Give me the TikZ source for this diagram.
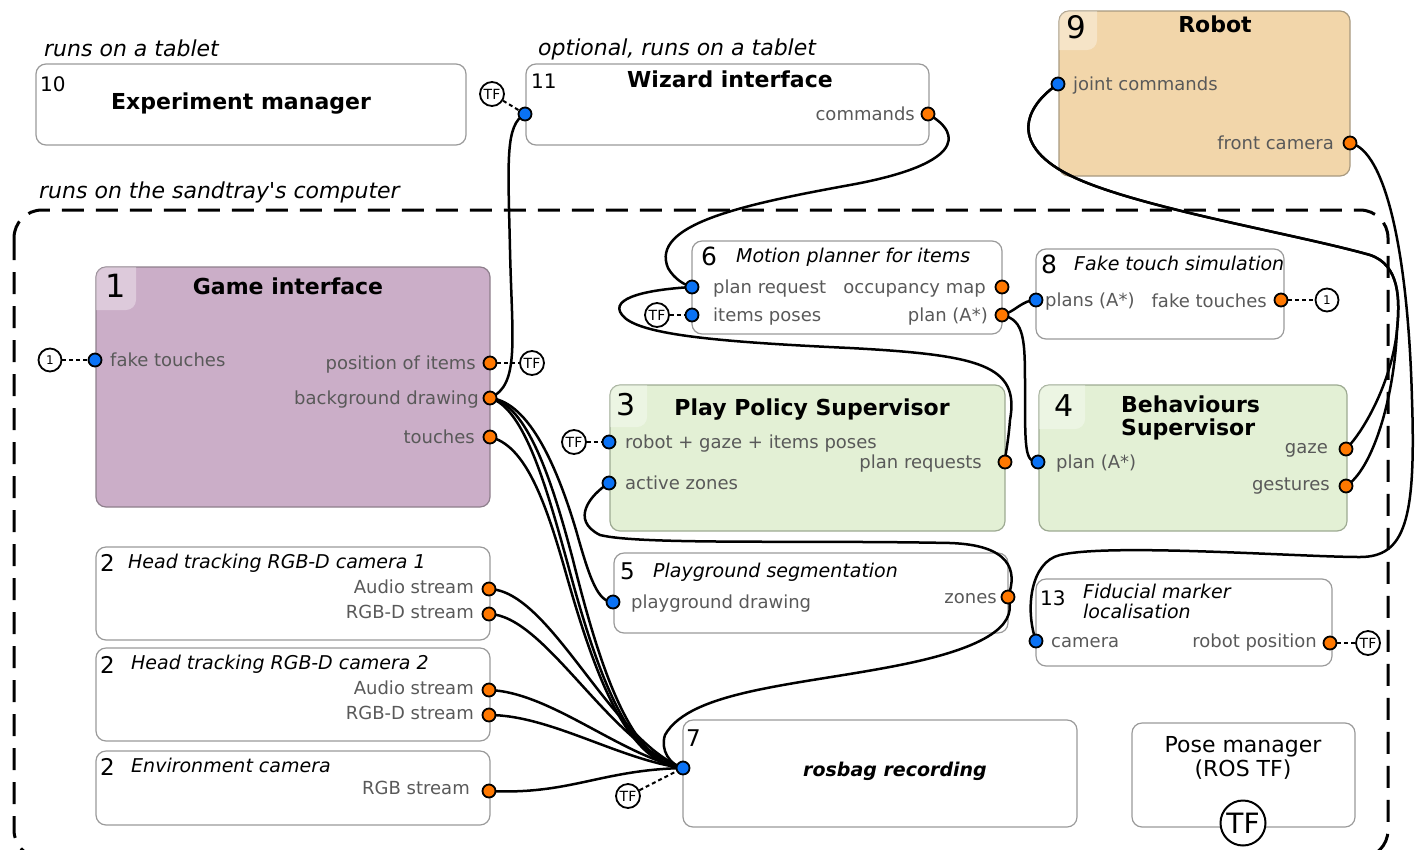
\documentclass[tikz,border=0pt]{standalone}
\usepackage{fontspec}
\setmainfont{DejaVu Sans}
\usetikzlibrary{calc}
\pgfdeclarelayer{boxes}
\pgfdeclarelayer{wires}
\pgfsetlayers{boxes,wires,main}
\definecolor{portblue}{HTML}{0A72F5}
\definecolor{portorange}{HTML}{FF7800}
\definecolor{lbl}{HTML}{595959}
\definecolor{boxgray}{HTML}{9A9A9A}
\definecolor{gifill}{HTML}{CBAEC8}
\definecolor{giedge}{HTML}{8E7F8C}
\definecolor{robfill}{HTML}{F2D6AA}
\definecolor{robedge}{HTML}{A8997F}
\definecolor{grfill}{HTML}{E3F0D5}
\definecolor{gredge}{HTML}{9DAA92}
\newcommand\fs[1]{\fontsize{#1}{#1}\selectfont}
\tikzset{
  box/.style={draw=boxgray, line width=1.2pt, rounded corners=10pt, anchor=north west, inner sep=0pt, outer sep=0pt},
  inport/.style={circle, draw=black, line width=1.8pt, fill=portblue, minimum size=13pt, inner sep=0pt},
  outport/.style={circle, draw=black, line width=1.8pt, fill=portorange, minimum size=13pt, inner sep=0pt},
  plabel/.style={text=lbl, font=\fs{18}, inner sep=0pt, text height=.72em, text depth=0pt, yshift=-3pt},
  plw/.style={plabel, anchor=west},
  ple/.style={plabel, anchor=east},
  num/.style={inner sep=0pt, anchor=west, text height=.72em, text depth=0pt, yshift=-6pt},
  ttl/.style={font=\bfseries\fs{22}, inner sep=0pt, text height=.72em, text depth=0pt, yshift=-5pt},
  ittl/.style={font=\itshape\fs{19}, inner sep=0pt, anchor=west, text height=.72em, text depth=0pt, yshift=-4pt},
  note/.style={font=\itshape\fs{22}, inner sep=0pt, anchor=west, text height=.72em, text depth=0pt, yshift=-5pt},
  tfc/.style={circle, draw=black, line width=1.8pt, fill=white, minimum size=24pt, inner sep=0pt, font=\fs{14}},
  onec/.style={circle, draw=black, line width=1.8pt, fill=white, minimum size=23pt, inner sep=0pt, font=\fs{12}},
  wire/.style={line width=2.5pt},
  tfwire/.style={line width=2pt, dash pattern=on 4pt off 3pt},
}
\begin{document}
\begin{tikzpicture}[x=1pt,y=-1pt]
\useasboundingbox (0,0) rectangle (1421,849);
\clip (0,0) rectangle (1421,849);

\begin{pgfonlayer}{boxes}
% system border
\draw[line width=3pt, dash pattern=on 22pt off 12pt, rounded corners=28pt] (14,210) rectangle (1388,858);
\node[note] (n1) at (44,48) {runs on a tablet};
\node[note] (n2) at (538,47) {optional, runs on a tablet};
\node[note] (n3) at (39,190) {runs on the sandtray\textquotesingle s computer};

% boxes
\node[box, minimum width=430pt, minimum height=81pt] (em) at (36,64) {};
\node[box, minimum width=403pt, minimum height=81pt] (wiz) at (526,64) {};
\node[box, draw=robedge, fill=robfill, minimum width=291pt, minimum height=165pt] (rob) at (1059,11) {};
\node[box, draw=giedge, fill=gifill, minimum width=394pt, minimum height=240pt] (gi) at (96,267) {};
\node[box, minimum width=310pt, minimum height=93pt] (mp) at (692,241) {};
\node[box, minimum width=248pt, minimum height=90pt] (ft) at (1036,249) {};
\node[box, draw=gredge, fill=grfill, minimum width=395pt, minimum height=146pt] (pps) at (610,385) {};
\node[box, draw=gredge, fill=grfill, minimum width=308pt, minimum height=146pt] (bs) at (1039,385) {};
\node[box, minimum width=394pt, minimum height=93pt] (ht1) at (96,547) {};
\node[box, minimum width=394pt, minimum height=93pt] (ht2) at (96,648) {};
\node[box, minimum width=394pt, minimum height=74pt] (env) at (96,751) {};
\node[box, minimum width=394pt, minimum height=80pt] (ps) at (614,553) {};
\node[box, minimum width=296pt, minimum height=87pt] (fm) at (1036,579) {};
\node[box, minimum width=394pt, minimum height=107pt] (rb) at (683,720) {};
\node[box, minimum width=223pt, minimum height=104pt] (pm) at (1132,723) {};

% number highlights
\begin{scope}
\clip[rounded corners=10pt] (1059,11) rectangle (1350,176);
\fill[white, opacity=.35, rounded corners=10pt] (1049,1) rectangle (1097,50);
\end{scope}
\begin{scope}
\clip[rounded corners=10pt] (96,267) rectangle (490,507);
\fill[white, opacity=.35, rounded corners=10pt] (86,257) rectangle (136,310);
\end{scope}
\begin{scope}
\clip[rounded corners=10pt] (610,385) rectangle (1005,531);
\fill[white, opacity=.35, rounded corners=10pt] (600,375) rectangle (647,427);
\end{scope}
\begin{scope}
\clip[rounded corners=10pt] (1039,385) rectangle (1347,531);
\fill[white, opacity=.35, rounded corners=10pt] (1029,375) rectangle (1085,429);
\end{scope}

% titles and numbers
\node[num, font=\fs{20}] (em-n) at (40,82) {10};
\node[ttl] (em-t) at (241,101) {Experiment manager};
\node[num, font=\fs{20}] (wiz-n) at (531,79) {11};
\node[ttl] (wiz-t) at (730,79) {Wizard interface};
\node[num, font=\fs{31}] (rob-n) at (1066,29) {9};
\node[ttl] (rob-t) at (1215,24) {Robot};
\node[num, font=\fs{32}] (gi-n) at (105,288) {1};
\node[ttl] (gi-t) at (288,286) {Game interface};
\node[num, font=\fs{25}] (mp-n) at (701,256) {6};
\node[ittl] (mp-t) at (736,255) {Motion planner for items};
\node[num, font=\fs{25}] (ft-n) at (1041,264) {8};
\node[ittl] (ft-t) at (1074,263) {Fake touch simulation};
\node[num, font=\fs{30}] (pps-n) at (616,406) {3};
\node[ttl] (pps-t) at (812,407) {Play Policy Supervisor};
\node[num, font=\fs{30}] (bs-n) at (1054,407) {4};
\node[font=\bfseries\fontsize{22}{23}\selectfont, inner sep=0pt, anchor=north west, align=left] (bs-t) at (1121,396) {Behaviours\\Supervisor};
\node[num, font=\fs{23}] (ht1-n) at (100,562) {2};
\node[ittl] (ht1-t) at (128,561) {Head tracking RGB-D camera 1};
\node[num, font=\fs{23}] (ht2-n) at (100,664) {2};
\node[ittl] (ht2-t) at (131,662) {Head tracking RGB-D camera 2};
\node[num, font=\fs{23}] (env-n) at (100,766) {2};
\node[ittl] (env-t) at (131,765) {Environment camera};
\node[num, font=\fs{23}] (ps-n) at (620,570) {5};
\node[ittl] (ps-t) at (653,570) {Playground segmentation};
\node[num, font=\fs{20}] (fm-n) at (1040,596) {13};
\node[font=\itshape\fontsize{19}{20}\selectfont, inner sep=0pt, anchor=north west, align=left] (fm-t) at (1083,584) {Fiducial marker\\localisation};
\node[num, font=\fs{23}] (rb-n) at (686,737) {7};
\node[ttl, font=\bfseries\itshape\fs{19}] (rb-t) at (895,768) {rosbag recording};
\node[font=\fontsize{22}{24}\selectfont, inner sep=0pt, anchor=north, align=center] (pm-t) at (1243,736) {Pose manager\\(ROS TF)};

% port labels
\node[ple] at (915,114) {commands};
\node[plw] at (1073,84) {joint commands};
\node[ple] at (1334,143) {front camera};
\node[plw] at (110,360) {fake touches};
\node[ple] at (476,363) {position of items};
\node[ple] at (479,398) {background drawing};
\node[ple] at (475,437) {touches};
\node[plw] at (713,287) {plan request};
\node[plw] at (713,315) {items poses};
\node[ple] at (986,287) {occupancy map};
\node[ple] at (988,315) {plan (A*)};
\node[plw] at (1045,300) {plans (A*)};
\node[ple] at (1267,301) {fake touches};
\node[plw] at (625,442) {robot + gaze + items poses};
\node[ple] at (982,462) {plan requests};
\node[plw] at (625,483) {active zones};
\node[plw] at (1056,462) {plan (A*)};
\node[ple] at (1328,447) {gaze};
\node[ple] at (1330,484) {gestures};
\node[ple] at (474,587) {Audio stream};
\node[ple] at (474,612) {RGB-D stream};
\node[ple] at (474,688) {Audio stream};
\node[ple] at (474,713) {RGB-D stream};
\node[ple] at (470,788) {RGB stream};
\node[plw] at (631,602) {playground drawing};
\node[ple] at (997,597) {zones};
\node[plw] at (1051,641) {camera};
\node[ple] at (1317,641) {robot position};
\end{pgfonlayer}

% ports
\node[inport] (wizin) at (525,114) {};
\node[outport] (wizcmd) at (928,114) {};
\node[inport] (robjoint) at (1058,84) {};
\node[outport] (robcam) at (1350,143) {};
\node[inport] (gifake) at (95,360) {};
\node[outport] (gipos) at (490,363) {};
\node[outport] (gibg) at (490,398) {};
\node[outport] (gitouch) at (490,437) {};
\node[inport] (mpreq) at (692,287) {};
\node[inport] (mpitems) at (692,315) {};
\node[outport] (mpocc) at (1002,287) {};
\node[outport] (mpplan) at (1002,315) {};
\node[inport] (ftplans) at (1036,300) {};
\node[outport] (ftfake) at (1281,300) {};
\node[inport] (ppsrobot) at (609,442) {};
\node[inport] (ppszones) at (609,483) {};
\node[outport] (ppsreq) at (1005,462) {};
\node[inport] (bsplan) at (1038,462) {};
\node[outport] (bsgaze) at (1346,449) {};
\node[outport] (bsgest) at (1346,486) {};
\node[outport] (htaa) at (489,589) {};
\node[outport] (htar) at (489,614) {};
\node[outport] (htba) at (489,690) {};
\node[outport] (htbr) at (489,715) {};
\node[outport] (envrgb) at (489,791) {};
\node[inport] (psdraw) at (613,602) {};
\node[outport] (pszones) at (1008,597) {};
\node[inport] (fmcam) at (1036,641) {};
\node[outport] (fmpos) at (1330,643) {};
\node[inport] (rbin) at (683,768) {};

% TF and link circles
\node[tfc] (tfwiz) at (492,94) {TF};
\node[tfc] (tfgi) at (532,363) {TF};
\node[tfc] (tfmp) at (657,315) {TF};
\node[tfc] (tfpps) at (574,442) {TF};
\node[tfc] (tffm) at (1368,643) {TF};
\node[tfc] (tfrb) at (628,796) {TF};
\node[onec] (oneA) at (50,360) {1};
\node[onec] (oneB) at (1327,300) {1};
\node[circle, draw=black, line width=2pt, fill=white, minimum size=45pt, inner sep=0pt, font=\fs{28}] (tfpm) at (1243,823) {TF};

\begin{pgfonlayer}{wires}
\draw[tfwire] (tfwiz) -- (wizin);
\draw[tfwire] (gipos) -- (tfgi);
\draw[tfwire] (tfmp) -- (mpitems);
\draw[tfwire] (tfpps) -- (ppsrobot);
\draw[tfwire] (fmpos) -- (tffm);
\draw[tfwire] (tfrb) -- (rbin);
\draw[tfwire] (oneA) -- (gifake);
\draw[tfwire] (ftfake) -- (oneB);

% background drawing -> wizard
\draw[wire] (gibg.center) .. controls (520,385) and (512,340) .. (510,250) .. controls (508,160) and (505,125) .. (wizin.center);
% commands -> plan request
\draw[wire] (wizcmd.center) .. controls (965,135) and (960,165) .. (850,185) .. controls (740,205) and (650,225) .. (668,268) .. controls (675,280) and (685,285) .. (mpreq.center);
% plan requests -> plan request
\draw[wire] (mpreq.center) .. controls (640,290) and (605,300) .. (625,318) .. controls (645,335) and (720,342) .. (850,348) .. controls (980,355) and (1020,365) .. (1010,420) .. controls (1008,445) and (1005,455) .. (ppsreq.center);
% plan (A*) -> fake touch, behaviours
\draw[wire] (mpplan.center) .. controls (1015,312) and (1022,300) .. (ftplans.center);
\draw[wire] (mpplan.center) .. controls (1025,320) and (1025,340) .. (1025,390) .. controls (1025,450) and (1025,462) .. (bsplan.center);
% game interface -> playground, rosbag
\draw[wire] (gibg.center) .. controls (530,402) and (558,470) .. (576,530) .. controls (590,580) and (598,602) .. (psdraw.center);
\draw[wire] (gibg.center) .. controls (527,404) and (552,480) .. (573,560) .. controls (598,660) and (630,765) .. (rbin.center);
\draw[wire] (gibg.center) .. controls (524,408) and (546,485) .. (568,565) .. controls (595,665) and (628,765) .. (rbin.center);
\draw[wire] (gitouch.center) .. controls (525,445) and (545,500) .. (565,570) .. controls (592,665) and (625,765) .. (rbin.center);
% zones -> active zones
\draw[wire] (ppszones.center) .. controls (590,495) and (570,520) .. (600,535) .. controls (640,545) and (800,540) .. (950,543) .. controls (1010,545) and (1018,570) .. (pszones.center);
% zones -> rosbag
\draw[wire] (pszones.center) .. controls (1016,620) and (1000,645) .. (900,665) .. controls (800,685) and (690,690) .. (665,735) .. controls (660,750) and (670,765) .. (rbin.center);
% cameras -> rosbag
\draw[wire] (htaa.center) .. controls (550,590) and (610,740) .. (rbin.center);
\draw[wire] (htar.center) .. controls (545,615) and (610,745) .. (rbin.center);
\draw[wire] (htba.center) .. controls (550,692) and (620,755) .. (rbin.center);
\draw[wire] (htbr.center) .. controls (550,715) and (620,760) .. (rbin.center);
\draw[wire] (envrgb.center) .. controls (570,795) and (600,770) .. (rbin.center);
% gaze, gestures -> joint commands
\draw[wire] (robjoint.center) .. controls (1020,110) and (1010,150) .. (1080,180) .. controls (1150,210) and (1300,235) .. (1370,255) .. controls (1400,265) and (1400,300) .. (1397,330) .. controls (1392,380) and (1365,430) .. (bsgaze.center);
\draw[wire] (robjoint.center) .. controls (1020,110) and (1010,150) .. (1080,180) .. controls (1150,210) and (1300,235) .. (1370,255) .. controls (1400,265) and (1400,300) .. (1397,330) .. controls (1394,400) and (1372,470) .. (bsgest.center);
% front camera -> fiducial camera
\draw[wire] (robcam.center) .. controls (1385,150) and (1408,250) .. (1412,400) .. controls (1416,520) and (1405,557) .. (1360,557) .. controls (1300,557) and (1110,543) .. (1060,555) .. controls (1030,562) and (1025,610) .. (fmcam.center);
\end{pgfonlayer}
\end{tikzpicture}
\end{document}
